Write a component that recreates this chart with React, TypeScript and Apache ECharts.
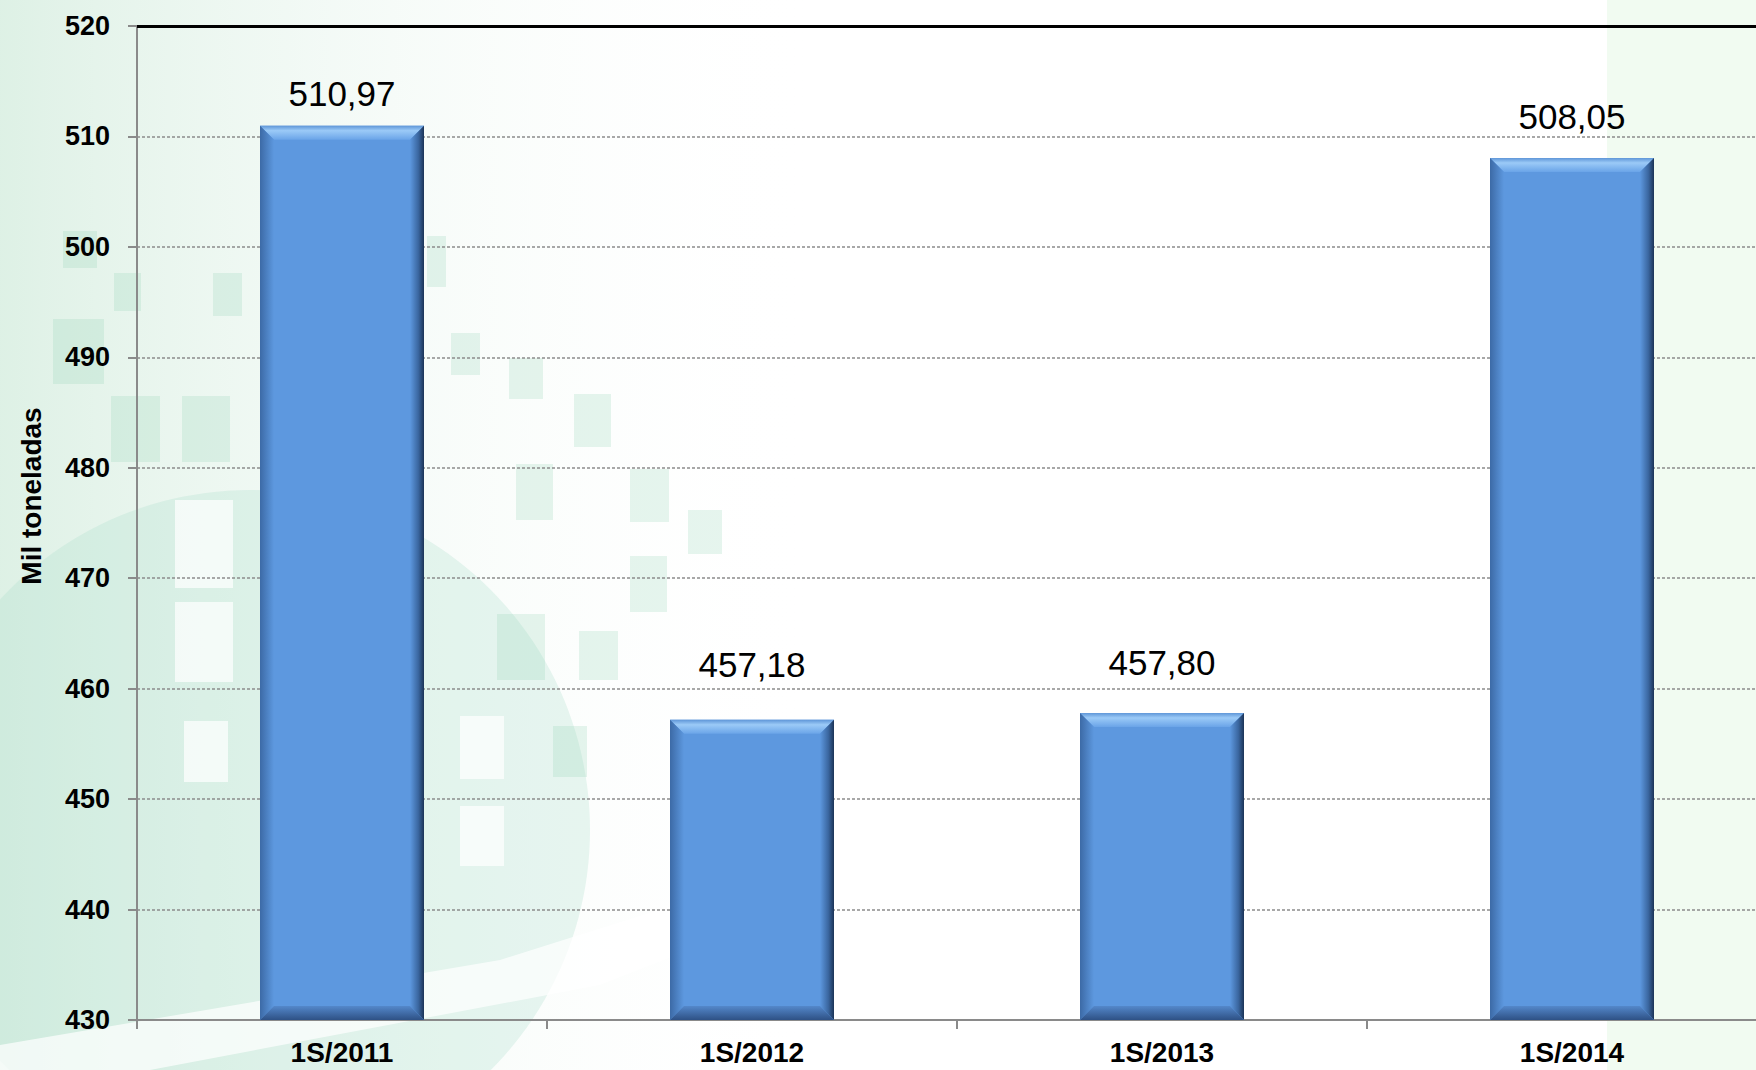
import React, { useEffect, useRef } from "react";
import * as echarts from "echarts";

const categories = ["1S/2011", "1S/2012", "1S/2013", "1S/2014"];
const values = [510.97, 457.18, 457.8, 508.05];
const yMin = 430;
const yMax = 520;
const yInterval = 10;
const yAxisTitle = "Mil toneladas";

// per-bar label gap above the bar (px)
const labelGaps = [15, 38, 33, 24];

// background decoration squares [x, y, w, h]
const decoSquares: number[][] = [
  [63, 231, 34, 37], [114, 273, 27, 38], [213, 273, 29, 43], [53, 319, 51, 65],
  [111, 396, 49, 66], [182, 396, 48, 66], [427, 236, 19, 51], [451, 333, 29, 42],
  [509, 358, 34, 41], [574, 394, 37, 53], [516, 464, 37, 56], [630, 469, 39, 53],
  [688, 510, 34, 44], [630, 556, 37, 56], [497, 614, 48, 66], [579, 631, 39, 49],
  [553, 726, 34, 51],
];
const decoWindows: number[][] = [
  [175, 500, 58, 88], [175, 602, 58, 80], [184, 721, 44, 61], [460, 716, 44, 63], [460, 806, 44, 60],
];

const FONT = "'Liberation Sans', Arial, sans-serif";

export default function App() {
  const ref = useRef<HTMLDivElement>(null);
  useEffect(() => {
    document.body.style.margin = "0";
    if (!ref.current) return;
    const chart = echarts.init(ref.current, null, { renderer: "svg" });
    const bevel = 14;
    const graphics: any[] = [
      {
        type: "rect", z: -100, silent: true,
        shape: { x: 0, y: 0, width: 820, height: 1070 },
        style: {
          fill: new echarts.graphic.LinearGradient(0, 0, 1, 0, [
            { offset: 0, color: "rgba(220,240,228,0.95)" },
            { offset: 1, color: "rgba(255,255,255,0)" },
          ]),
        },
      },
      {
        type: "rect", z: -100, silent: true,
        shape: { x: 1607, y: 0, width: 149, height: 1070 },
        style: { fill: "#f1fbf1" },
      },
      {
        type: "circle", z: -99, silent: true,
        shape: { cx: 250, cy: 830, r: 340 },
        style: { fill: "rgba(165,222,200,0.26)" },
      },
      ...decoSquares.map((s) => ({
        type: "rect", z: -98, silent: true,
        shape: { x: s[0], y: s[1], width: s[2], height: s[3] },
        style: { fill: "rgba(140,208,178,0.22)" },
      })),
      ...decoWindows.map((s) => ({
        type: "rect", z: -97, silent: true,
        shape: { x: s[0], y: s[1], width: s[2], height: s[3] },
        style: { fill: "rgba(255,255,255,0.7)" },
      })),
      {
        type: "polygon", z: -96, silent: true,
        shape: { points: [[0, 1070], [0, 1045], [500, 960], [1100, 770], [1150, 770], [600, 985], [150, 1070]] },
        style: { fill: "rgba(255,255,255,0.7)" },
      },
      {
        type: "text", z: 10, silent: true,
        x: 31, y: 496, rotation: Math.PI / 2,
        style: {
          text: yAxisTitle, fill: "#000", font: `bold 28px ${FONT}`,
          textAlign: "center", textVerticalAlign: "middle",
        },
      },
    ];

    const option: any = {
      animation: false,
      backgroundColor: "#ffffff",
      graphic: graphics,
      grid: { left: 137, top: 26, width: 1640, bottom: 50, outerBoundsMode: "none", containLabel: false },
      xAxis: {
        type: "category",
        data: categories,
        boundaryGap: true,
        axisLine: { lineStyle: { color: "#8a8a8a", width: 2 } },
        axisTick: { show: true, length: 9, lineStyle: { color: "#8a8a8a", width: 2 } },
        axisLabel: { color: "#000", fontFamily: FONT, fontSize: 28, fontWeight: "bold", margin: 18 },
        splitLine: { show: false },
      },
      yAxis: {
        type: "value",
        min: yMin,
        max: yMax,
        interval: yInterval,
        axisLine: { show: true, lineStyle: { color: "#8a8a8a", width: 2 } },
        axisTick: { show: true, inside: false, length: 9, lineStyle: { color: "#8a8a8a", width: 2 } },
        axisLabel: { color: "#000", fontFamily: FONT, fontSize: 27, fontWeight: "bold", margin: 27 },
        splitLine: { show: true, lineStyle: { color: "#8c8c8c", width: 1.5, type: [3, 2] } },
      },
      series: [
        {
          type: "bar",
          data: values.map((v, i) => ({ value: v, label: { distance: labelGaps[i] } })),
          barWidth: "40%",
          itemStyle: { color: "#5d98df" },
          label: {
            show: true,
            position: "top",
            distance: 15,
            color: "#000",
            fontFamily: FONT,
            fontSize: 35,
            formatter: (p: any) => p.value.toFixed(2).replace(".", ","),
          },
          markLine: {
            silent: true,
            symbol: "none",
            label: { show: false },
            lineStyle: { color: "#000", width: 3, type: "solid" },
            data: [{ yAxis: yMax }],
          },
          z: 3,
        },
        {
          type: "custom",
          silent: true,
          z: 4,
          data: values.map((v, i) => [i, v]),
          encode: { x: 0, y: 1 },
          renderItem: (params: any, api: any) => {
            const topPt = api.coord([api.value(0), api.value(1)]);
            const basePt = api.coord([api.value(0), yMin]);
            const w = api.size([1, 0])[0] * 0.4;
            const l = topPt[0] - w / 2;
            const r = topPt[0] + w / 2;
            const t = topPt[1];
            const b = basePt[1];
            const k = bevel;
            return {
              type: "group",
              children: [
                {
                  type: "polygon",
                  shape: { points: [[l, t], [r, t], [r - k, t + k], [l + k, t + k]] },
                  style: {
                    fill: new echarts.graphic.LinearGradient(0, 0, 0, 1, [
                      { offset: 0, color: "#5f96d8" },
                      { offset: 0.35, color: "#9bcaf7" },
                      { offset: 1, color: "#6aa4e8" },
                    ]),
                  },
                },
                {
                  type: "polygon",
                  shape: { points: [[l, t], [l + k, t + k], [l + k, b - k], [l, b]] },
                  style: {
                    fill: new echarts.graphic.LinearGradient(0, 0, 1, 0, [
                      { offset: 0, color: "#3c6aa6" },
                      { offset: 1, color: "#5d98df" },
                    ]),
                  },
                },
                {
                  type: "polygon",
                  shape: { points: [[r, t], [r, b], [r - k, b - k], [r - k, t + k]] },
                  style: {
                    fill: new echarts.graphic.LinearGradient(0, 0, 1, 0, [
                      { offset: 0, color: "#5d98df" },
                      { offset: 0.6, color: "#3a669f" },
                      { offset: 1, color: "#1c3457" },
                    ]),
                  },
                },
                {
                  type: "polygon",
                  shape: { points: [[l, b], [l + k, b - k], [r - k, b - k], [r, b]] },
                  style: {
                    fill: new echarts.graphic.LinearGradient(0, 0, 0, 1, [
                      { offset: 0, color: "#5488cb" },
                      { offset: 1, color: "#2e5185" },
                    ]),
                  },
                },
              ],
            };
          },
        },
      ],
    };
    chart.setOption(option);
    return () => chart.dispose();
  }, []);
  return <div ref={ref} style={{ width: 1756, height: 1070 }} />;
}
